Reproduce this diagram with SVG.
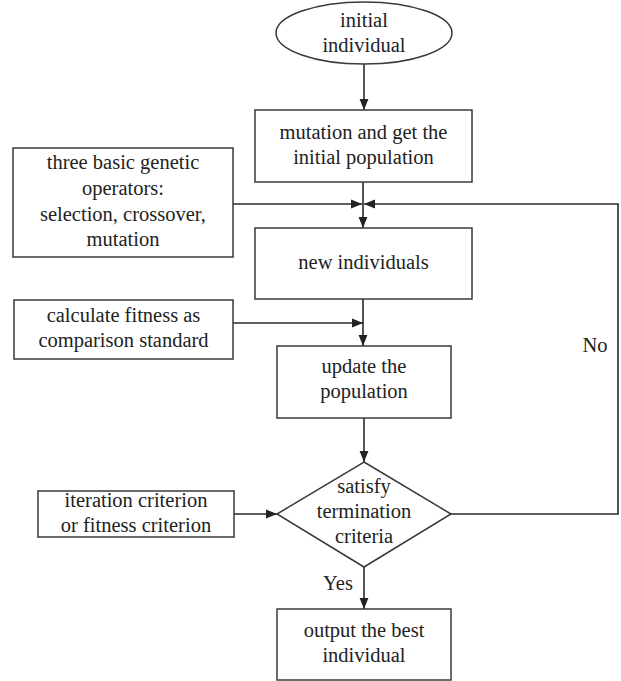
<svg xmlns="http://www.w3.org/2000/svg" width="621" height="681" viewBox="0 0 621 681">
<defs>
<style>
.n{fill:#fff;stroke:#3a3a3a;stroke-width:1.5}
.t{font-family:"Liberation Serif","Times New Roman",serif;font-size:20.5px;fill:#222;text-anchor:middle}
.c{fill:none;stroke:#2a2a2a;stroke-width:1.6}
</style>
<marker id="ah" viewBox="0 0 10 10" refX="10" refY="5" markerWidth="11" markerHeight="11" markerUnits="userSpaceOnUse" orient="auto">
<path d="M0,1 L10,5 L0,9 Z" fill="#222"/>
</marker>
</defs>
<rect width="621" height="681" fill="#fff"/>
<g id="connectors">
<line class="c" x1="364" y1="64" x2="364" y2="110" marker-end="url(#ah)"/>
<line class="c" x1="363" y1="182" x2="363" y2="228" marker-end="url(#ah)"/>
<line class="c" x1="233" y1="204" x2="362" y2="204" marker-end="url(#ah)"/>
<polyline class="c" points="451,514 618,514 618,204 364,204" marker-end="url(#ah)"/>
<line class="c" x1="363" y1="299" x2="363" y2="346" marker-end="url(#ah)"/>
<line class="c" x1="233" y1="323" x2="363" y2="323" marker-end="url(#ah)"/>
<line class="c" x1="364" y1="418" x2="364" y2="462" marker-end="url(#ah)"/>
<line class="c" x1="234" y1="514" x2="277" y2="514" marker-end="url(#ah)"/>
<line class="c" x1="364" y1="567" x2="364" y2="609" marker-end="url(#ah)"/>
<text class="t" x="595" y="352">No</text>
<text class="t" x="338" y="590">Yes</text>
</g>
<g id="start">
<ellipse class="n" cx="364" cy="33" rx="88" ry="31"/>
<text class="t" x="364" y="27">initial</text>
<text class="t" x="364" y="52">individual</text>
</g>
<g id="init-pop">
<rect class="n" x="255" y="110" width="217" height="72"/>
<text class="t" x="363.5" y="139">mutation and get the</text>
<text class="t" x="363.5" y="164">initial population</text>
</g>
<g id="operators">
<rect class="n" x="13" y="148" width="220" height="109"/>
<text class="t" x="123" y="169">three basic genetic</text>
<text class="t" x="123" y="195">operators:</text>
<text class="t" x="123" y="221">selection, crossover,</text>
<text class="t" x="123" y="246">mutation</text>
</g>
<g id="new-individuals">
<rect class="n" x="255" y="228" width="217" height="71"/>
<text class="t" x="363.5" y="269">new individuals</text>
</g>
<g id="fitness">
<rect class="n" x="14" y="300" width="219" height="59"/>
<text class="t" x="123.5" y="322">calculate fitness as</text>
<text class="t" x="123.5" y="347">comparison standard</text>
</g>
<g id="update">
<rect class="n" x="277" y="346" width="174" height="72"/>
<text class="t" x="364" y="373">update the</text>
<text class="t" x="364" y="398">population</text>
</g>
<g id="decision">
<polygon class="n" points="364,462 451,514 364,567 277,514"/>
<text class="t" x="364" y="493">satisfy</text>
<text class="t" x="364" y="518">termination</text>
<text class="t" x="364" y="543">criteria</text>
</g>
<g id="criterion">
<rect class="n" x="38" y="491" width="196" height="46"/>
<text class="t" x="136" y="507">iteration criterion</text>
<text class="t" x="136" y="532">or fitness criterion</text>
</g>
<g id="output">
<rect class="n" x="277" y="609" width="174" height="71"/>
<text class="t" x="364" y="637">output the best</text>
<text class="t" x="364" y="662">individual</text>
</g>
</svg>
